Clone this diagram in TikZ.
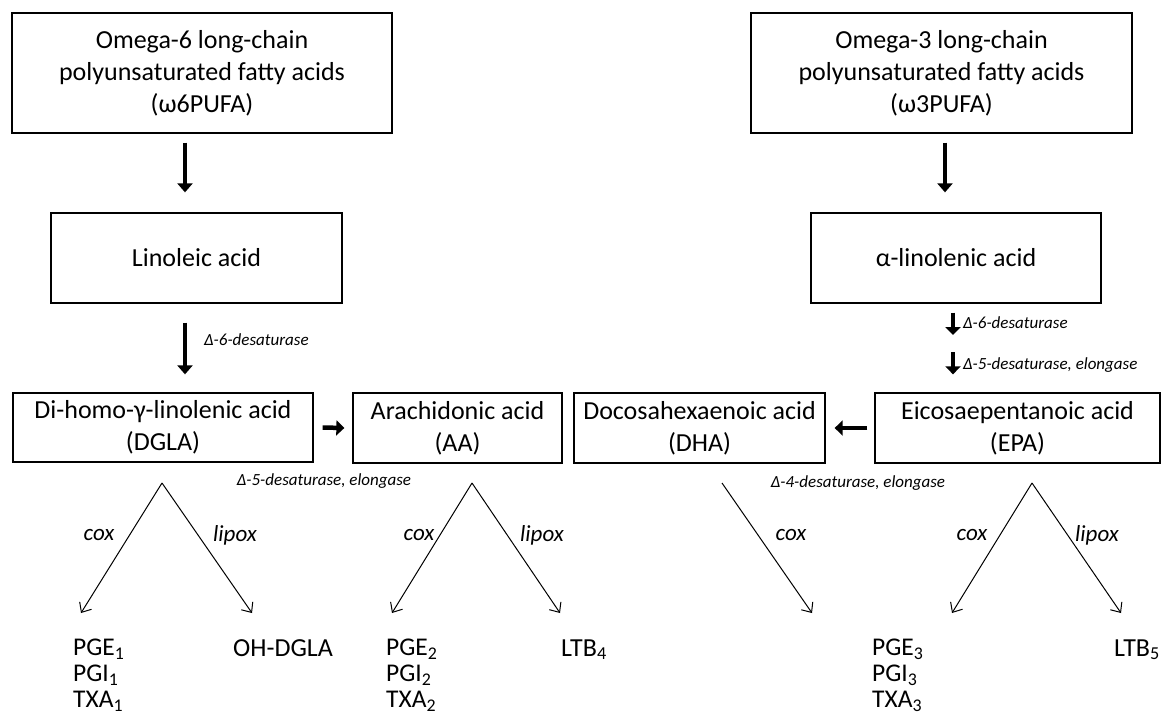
\documentclass[tikz,border=0pt]{standalone}
\usepackage{fontspec}
\setmainfont{Carlito}
\usetikzlibrary{arrows.meta}

\tikzset{
  box/.style={draw,line width=1.3pt,inner sep=0pt,align=center,font=\fontsize{26}{32}\selectfont},
  bigarrow/.style={line width=4.5pt,-{Triangle[length=9pt,width=15pt]}},
  smallarrow/.style={line width=4.5pt,-{Triangle[length=8pt,width=15pt]}},
  branch/.style={line width=1pt,-{Straight Barb[length=8pt,width=14pt]}},
  enzyme/.style={font=\fontsize{17}{20}\selectfont\itshape,inner sep=0pt},
  path/.style={font=\fontsize{23}{26}\selectfont\itshape,inner sep=0pt},
  product/.style={font=\fontsize{26}{26}\selectfont,inner sep=0pt,anchor=base west},
  products/.style={font=\fontsize{25.5}{26}\selectfont,inner sep=0pt,align=left,anchor=west}
}

\begin{document}
\begin{tikzpicture}[x=1pt,y=-1pt]
\useasboundingbox (0,0) rectangle (1162,721);
% boxes
\node[box,minimum width=380,minimum height=120] (w6) at (202,73) {Omega-6 long-chain\\polyunsaturated fatty acids\\(ω6PUFA)};
\node[box,minimum width=381,minimum height=120] (w3) at (941.5,73) {Omega-3 long-chain\\polyunsaturated fatty acids\\(ω3PUFA)};
\node[box,minimum width=291,minimum height=90] (lin) at (196.5,258) {Linoleic acid};
\node[box,minimum width=290,minimum height=90] (ala) at (956,258) {α-linolenic acid};
\node[box,minimum width=300,minimum height=69] (dgla) at (163,427.5) {Di-homo-γ-linolenic acid\\(DGLA)};
\node[box,minimum width=209,minimum height=70] (aa) at (457.5,428) {Arachidonic acid\\(AA)};
\node[box,minimum width=251,minimum height=70] (dha) at (699.5,428) {Docosahexaenoic acid\\(DHA)};
\node[box,minimum width=285,minimum height=70] (epa) at (1017.5,428) {Eicosaepentanoic acid\\(EPA)};

% thick arrows
\draw[bigarrow] ([xshift=-17pt,yshift=-9pt]w6.south) -- ([xshift=-11.5pt,yshift=20pt]lin.north);
\draw[bigarrow] ([xshift=-11.5pt,yshift=-19pt]lin.south) -- ([xshift=22pt,yshift=18pt]dgla.north);
\draw[bigarrow] ([xshift=3.5pt,yshift=-9pt]w3.south) -- ([xshift=-11pt,yshift=20pt]ala.north);
\coordinate (mid1) at (953,335);
\coordinate (mid2) at (953,352);
\draw[smallarrow] ([xshift=-3pt,yshift=-9pt]ala.south) -- (mid1);
\draw[smallarrow] (mid2) -- ([xshift=-64.5pt,yshift=18pt]epa.north);
\draw[smallarrow] ([xshift=9pt]dgla.east) -- ([xshift=-8pt]aa.west);
\draw[smallarrow] ([xshift=-7pt]epa.west) -- ([xshift=9pt]dha.east);

% enzymes
\node[enzyme,anchor=west] (e1) at (204,340) {Δ-6-desaturase};
\node[enzyme,anchor=west] (e2) at (963,323) {Δ-6-desaturase};
\node[enzyme,anchor=west] (e3) at (963,365) {Δ-5-desaturase, elongase};
\node[enzyme] (e4) at (324,481) {Δ-5-desaturase, elongase};
\node[enzyme] (e5) at (858,483) {Δ-4-desaturase, elongase};

% branches
\coordinate (t1) at (162,483);
\coordinate (t2) at (472,483);
\coordinate (t3) at (722,483);
\coordinate (t4) at (1032,483);
\coordinate (b1) at (81,613);
\coordinate (b2) at (252,613);
\coordinate (b3) at (392,613);
\coordinate (b4) at (560,613);
\coordinate (b5) at (812,613);
\coordinate (b6) at (952,613);
\coordinate (b7) at (1121,613);
\draw[branch] (t1) -- (b1);
\draw[branch] (t1) -- (b2);
\draw[branch] (t2) -- (b3);
\draw[branch] (t2) -- (b4);
\draw[branch] (t3) -- (b5);
\draw[branch] (t4) -- (b6);
\draw[branch] (t4) -- (b7);
\node[path] (c1) at (99,535) {cox};
\node[path] (l1) at (235,535) {lipox};
\node[path] (c2) at (419,535) {cox};
\node[path] (l2) at (542,535) {lipox};
\node[path] (c3) at (791,535) {cox};
\node[path] (c4) at (972,535) {cox};
\node[path] (l4) at (1097,535) {lipox};

% products
\node[products] (pg1) at (73,675) {PGE\textsubscript{1}\\PGI\textsubscript{1}\\TXA\textsubscript{1}};
\node[product] (ohd) at (233,656) {OH-DGLA};
\node[products] (pg2) at (386,675) {PGE\textsubscript{2}\\PGI\textsubscript{2}\\TXA\textsubscript{2}};
\node[product] (ltb4) at (561,656) {LTB\textsubscript{4}};
\node[products] (pg3) at (872,675) {PGE\textsubscript{3}\\PGI\textsubscript{3}\\TXA\textsubscript{3}};
\node[product,anchor=base east] (ltb5) at (1160,656) {LTB\textsubscript{5}};
\end{tikzpicture}
\end{document}
